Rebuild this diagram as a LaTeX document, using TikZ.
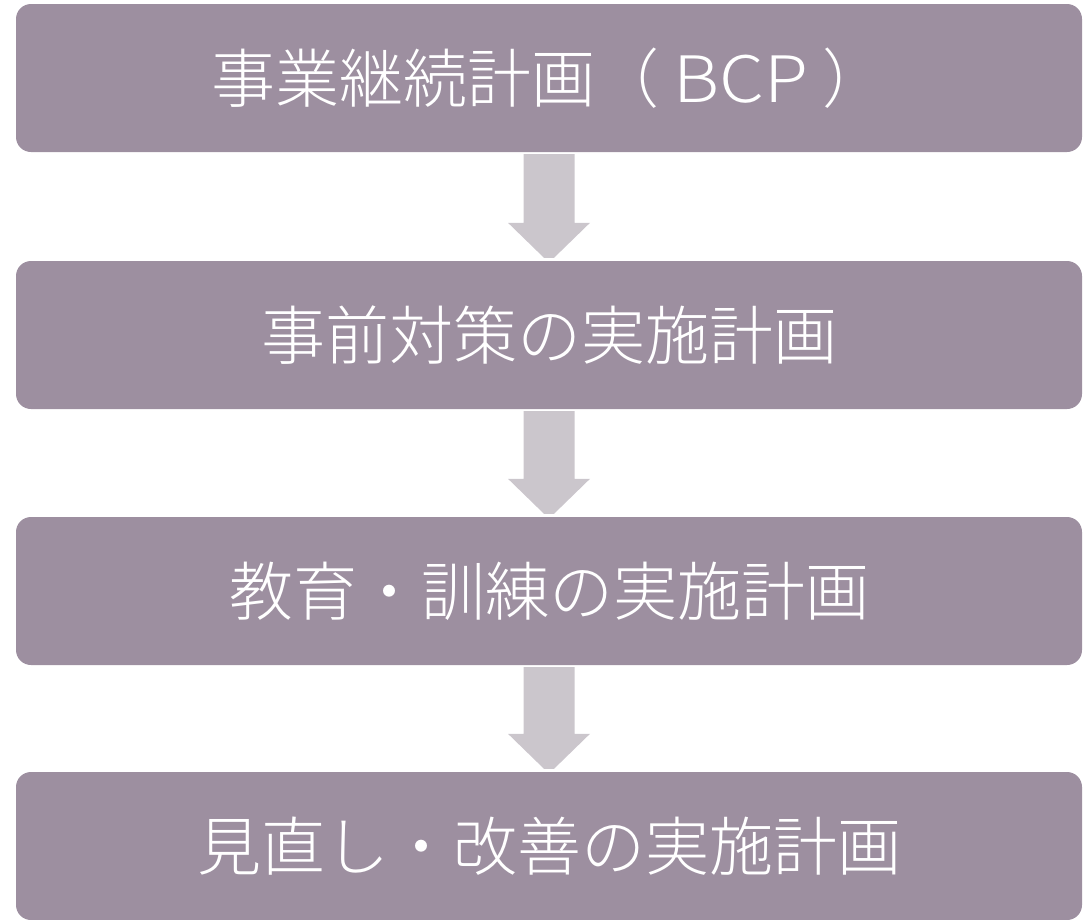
\documentclass[tikz,border=0pt]{standalone}
\usepackage{fontspec}
\newfontfamily\jpfont{Noto Sans CJK JP}[UprightFont={* Light}]
\usetikzlibrary{calc}
\definecolor{boxfill}{HTML}{9D8FA0}
\definecolor{arrfill}{HTML}{CBC6CC}
\newcommand\flowarrow[2]{%
  \fill[arrfill] ($(#1.south)+(-25.5,2)$) -- ($(#1.south)+(25.5,2)$)
    -- ($(#2.north)+(25.5,-38)$) -- ($(#2.north)+(41,-38)$)
    -- ($(#2.north)+(5,-3)$) -- ($(#2.north)+(-5,-3)$)
    -- ($(#2.north)+(-41,-38)$) -- ($(#2.north)+(-25.5,-38)$) -- cycle;}
\begin{document}
\begin{tikzpicture}[x=1pt,y=-1pt,
  box/.style={fill=boxfill, rounded corners=15pt, minimum width=1066pt,
    minimum height=148pt, text=white, inner sep=0pt,
    font=\jpfont\fontsize{64}{72}\selectfont}]
\useasboundingbox (0,0) rectangle (1084,919);
\node[box] (b1) at (549,78) {\raisebox{4pt}{事業継続計画（ \scalebox{1.12}[1]{BCP} ）}};
\node[box] (b2) at (549,335) {\raisebox{4pt}{事前対策の実施計画}};
\node[box] (b3) at (549,591) {\raisebox{4pt}{教育・訓練の実施計画}};
\node[box] (b4) at (549,846) {\raisebox{4pt}{見直し・改善の実施計画}};
\flowarrow{b1}{b2}
\flowarrow{b2}{b3}
\flowarrow{b3}{b4}
\end{tikzpicture}
\end{document}
